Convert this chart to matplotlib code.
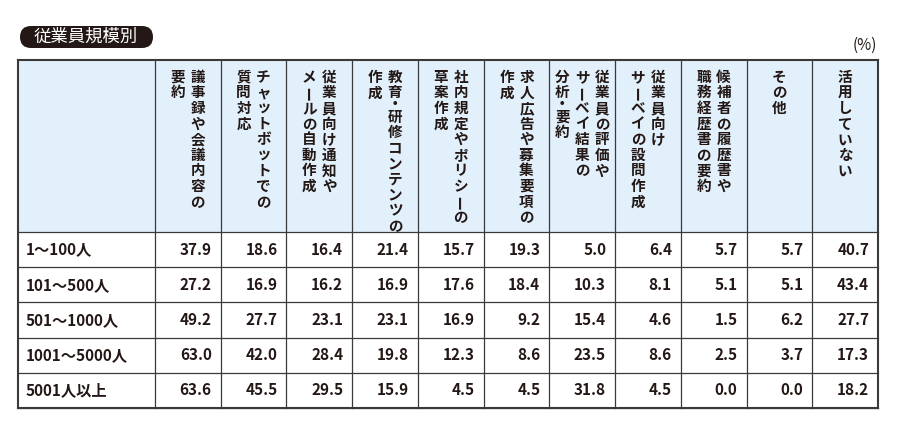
import matplotlib
matplotlib.use("Agg")
import matplotlib.pyplot as plt
from matplotlib.patches import FancyBboxPatch, Rectangle

plt.rcParams["font.family"] = "Noto Sans CJK JP"

title = "従業員規模別"
unit = "(%)"
headers = [
    ["議事録や会議内容の", "要約"],
    ["チャットボットでの", "質問対応"],
    ["従業員向け通知や", "メールの自動作成"],
    ["教育・研修コンテンツの", "作成"],
    ["社内規定やポリシーの", "草案作成"],
    ["求人広告や募集要項の", "作成"],
    ["従業員の評価や", "サーベイ結果の", "分析・要約"],
    ["従業員向け", "サーベイの設問作成"],
    ["候補者の履歴書や", "職務経歴書の要約"],
    ["その他"],
    ["活用していない"],
]
rows = ["1～100人", "101～500人", "501～1000人", "1001～5000人", "5001人以上"]
values = [
    [37.9, 18.6, 16.4, 21.4, 15.7, 19.3, 5.0, 6.4, 5.7, 5.7, 40.7],
    [27.2, 16.9, 16.2, 16.9, 17.6, 18.4, 10.3, 8.1, 5.1, 5.1, 43.4],
    [49.2, 27.7, 23.1, 23.1, 16.9, 9.2, 15.4, 4.6, 1.5, 6.2, 27.7],
    [63.0, 42.0, 28.4, 19.8, 12.3, 8.6, 23.5, 8.6, 2.5, 3.7, 17.3],
    [63.6, 45.5, 29.5, 15.9, 4.5, 4.5, 31.8, 4.5, 0.0, 0.0, 18.2],
]

fig = plt.figure(figsize=(9, 4.24), dpi=100)
ax = fig.add_axes([0, 0, 1, 1])
ax.set_xlim(0, 900)
ax.set_ylim(424, 0)
ax.axis("off")

x0, x1, xr = 18, 155, 878
cw = (xr - x1) / len(headers)
top, hb = 60, 232
rh = (408 - hb) / len(rows)
bottom = hb + rh * len(rows)
line_c = "#3a3a3a"
txt_c = "#231815"

# title pill
ax.add_patch(FancyBboxPatch((20, 26), 133, 22, boxstyle="round,pad=0,rounding_size=11",
                            fc=txt_c, ec="none"))
ax.text(86, 37, title, color="white", fontsize=12.5, ha="center", va="center")
ax.text(877, 45, unit, fontsize=11, ha="right", va="center", color=txt_c)

# header background
ax.add_patch(Rectangle((x0, top), xr - x0, hb - top, fc="#e1f0fb", ec="none"))

# vertical header text, lines read right to left
step = 15.6
for j, lines in enumerate(headers):
    cx = x1 + cw * (j + 0.5)
    n = len(lines)
    for k, ln in enumerate(lines):
        lx = cx + (n - 1) * 10 - k * 20
        y = top + 9
        for ch in ln:
            h = step * 0.55 if ch == "・" else step
            rot = 90 if ch == "ー" else 0
            ax.text(lx, y + h / 2, ch, fontsize=10.5, fontweight="bold", ha="center",
                    va="center", rotation=rot, color=txt_c)
            y += h

# body
for i, (r, vals) in enumerate(zip(rows, values)):
    yc = hb + rh * (i + 0.5)
    ax.text(x0 + 8, yc, r, fontsize=11, fontweight="bold", ha="left", va="center",
            color=txt_c)
    for j, v in enumerate(vals):
        ax.text(x1 + cw * (j + 1) - 9, yc, f"{v:.1f}", fontsize=11, fontweight="bold",
                ha="right", va="center", color=txt_c)

# grid lines
for i in range(len(rows) + 1):
    y = hb + rh * i
    ax.plot([x0, xr], [y, y], color=line_c, lw=0.9)
ax.plot([x0, xr], [top, top], color=line_c, lw=1.5)
ax.plot([x0, xr], [bottom, bottom], color=line_c, lw=1.5)
ax.plot([x0, x0], [top, bottom], color=line_c, lw=1.5)
ax.plot([xr, xr], [top, bottom], color=line_c, lw=1.5)
for j in range(len(headers)):
    x = x1 + cw * j
    ax.plot([x, x], [top, bottom], color=line_c, lw=0.9)

fig.savefig("out.png", dpi=100)
